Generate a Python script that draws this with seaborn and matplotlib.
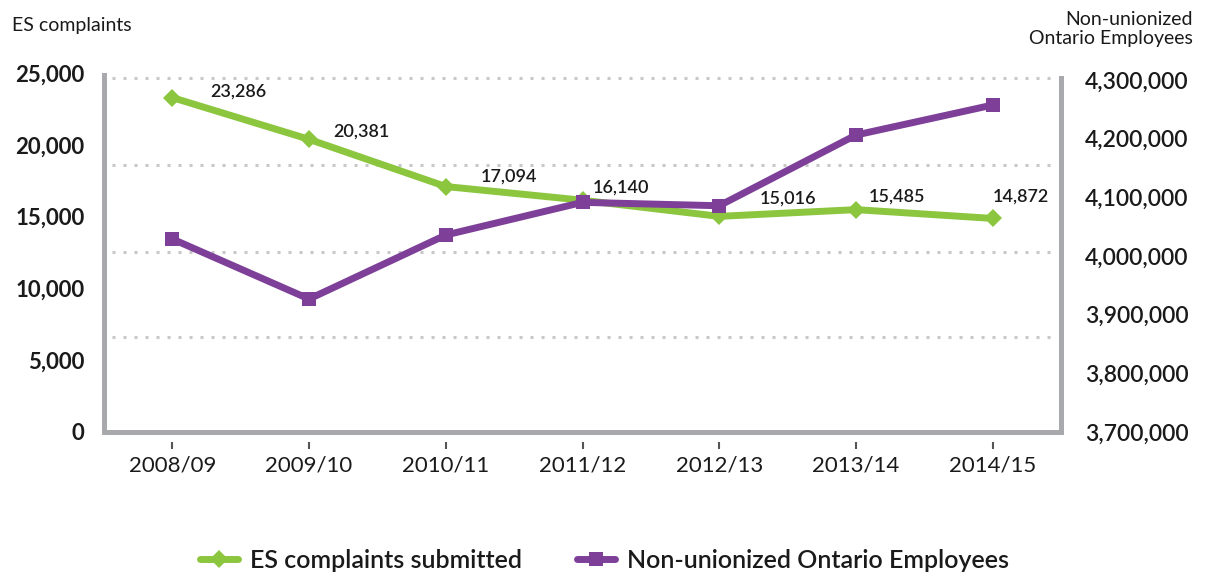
import matplotlib
matplotlib.use("Agg")
import matplotlib.pyplot as plt
import seaborn as sns

# ---- data ----
periods = ["2008/09", "2009/10", "2010/11", "2011/12", "2012/13", "2013/14", "2014/15"]
complaints = [23286, 20381, 17094, 16140, 15016, 15485, 14872]
employees = [4029000, 3926700, 4035800, 4091500, 4085700, 4206200, 4257400]
left_ticks = [0, 5000, 10000, 15000, 20000, 25000]
right_ticks = [3700000, 3800000, 3900000, 4000000, 4100000, 4200000, 4300000]
series_names = ["ES complaints submitted", "Non-unionized Ontario Employees"]
left_title = "ES complaints"
right_title = "Non-unionized\nOntario Employees"

# ---- style ----
GREEN = "#8cc63f"
PURPLE = "#7d3f98"
SPINE = "#a7a9ac"
TEXT = "#1a1a1a"
GRID = "#c8c8c8"
# label offsets in pixels (dx, dy) relative to each green point
label_offsets = [(66, 6), (52, 8), (63, 10), (38, 13), (69, 18), (41, 13), (28, 22)]

sns.set_theme(style="white")
plt.rcParams["font.family"] = ["Lato", "DejaVu Sans"]

W, H = 1205, 576
fig = plt.figure(figsize=(W / 100, H / 100), dpi=100)
ax = fig.add_axes([104 / W, 1 - 432 / H, (1061 - 104) / W, (432 - 73) / H])

sns.lineplot(x=periods, y=complaints, ax=ax, color=GREEN, lw=5, marker="D",
             markersize=9, markeredgewidth=0, legend=False, sort=False)
ax2 = ax.twinx()
sns.lineplot(x=periods, y=employees, ax=ax2, color=PURPLE, lw=5, marker="s",
             markersize=9.5, markeredgewidth=0, legend=False, sort=False)
line_g = ax.lines[0]
line_p = ax2.lines[0]

ax.set_xlim(-0.5, 6.5)
ax.set_ylim(0, 25000)
ax2.set_ylim(3700000, 4312000)

for a in (ax, ax2):
    a.set_xlabel("")
    a.set_ylabel("")
    a.grid(False)
    for s in a.spines.values():
        s.set_visible(False)

for name in ("left", "bottom"):
    ax.spines[name].set_visible(True)
    ax.spines[name].set_color(SPINE)
    ax.spines[name].set_linewidth(3.6)
ax.spines["left"].set_bounds(0, 24850)
ax2.spines["right"].set_visible(True)
ax2.spines["right"].set_color(SPINE)
ax2.spines["right"].set_linewidth(3.6)
ax2.spines["right"].set_bounds(3700000, 4304000)

# dotted gridlines
for yf in [0.265, 0.501, 0.744, 0.986]:
    ax.plot([0.008, 0.99], [yf, yf], transform=ax.transAxes, ls=(0, (1, 2.6)),
            color=GRID, lw=2.2, zorder=0, dash_capstyle="butt")

ax.set_yticks(left_ticks, labels=[f"{v:,}" for v in left_ticks])
ax.tick_params(axis="y", length=0, pad=14, labelsize=16, labelcolor=TEXT)
for t in ax.get_yticklabels():
    t.set_fontweight("bold")
ax2.set_yticks(right_ticks, labels=[f"{v:,}" for v in right_ticks])
ax2.tick_params(axis="y", length=0, pad=17, labelsize=16.5, labelcolor=TEXT)
for t in ax2.get_yticklabels():
    t.set_fontweight("semibold")

ax.tick_params(axis="x", length=0, labelbottom=False)
ax2.tick_params(axis="x", length=0, labelbottom=False)
sec = ax.secondary_xaxis(-10 / 359)
sec.spines["bottom"].set_visible(False)
sec.set_xticks(range(len(periods)), labels=periods)
sec.tick_params(axis="x", length=5, width=1.5, color="#555555", pad=5,
                labelsize=16, labelcolor=TEXT)

# value labels
for i, (v, (dx, dy)) in enumerate(zip(complaints, label_offsets)):
    ax.annotate(f"{v:,}", (i, v), xytext=(dx, dy), textcoords="offset pixels",
                ha="center", va="center", fontsize=13, fontweight="semibold",
                color=TEXT, zorder=5)

fig.text(12 / W, 1 - 25 / H, left_title, ha="left", va="center", fontsize=14, color=TEXT)
fig.text(1193 / W, 1 - 29 / H, right_title, ha="right", va="center", fontsize=14,
         color=TEXT, multialignment="right", linespacing=1.1)

fig.legend(handles=[line_g, line_p], labels=series_names, loc="center",
           bbox_to_anchor=(0.502, 1 - 560 / H), ncol=2, frameon=False,
           handlelength=1.5, handletextpad=0.5, columnspacing=2.2, labelcolor=TEXT,
           prop={"weight": "semibold", "size": 18})

fig.savefig("out.png", dpi=100)
